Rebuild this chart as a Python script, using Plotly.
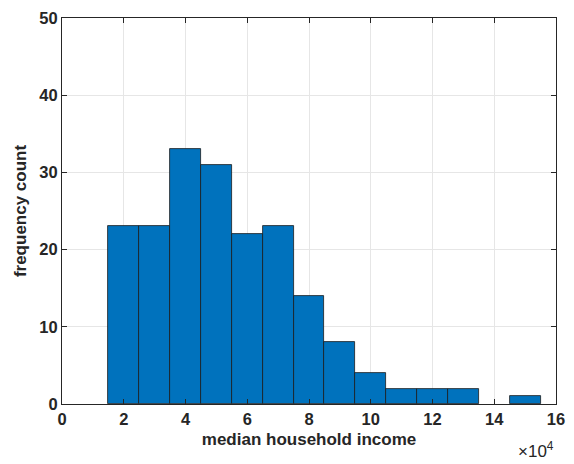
import plotly.graph_objects as go

bin_edges_left = [15000, 25000, 35000, 45000, 55000, 65000, 75000, 85000, 95000,
                  105000, 115000, 125000, 135000, 145000]
counts = [23, 23, 33, 31, 22, 23, 14, 8, 4, 2, 2, 2, 0, 1]
bin_width = 10000
x_tick_vals = [0, 20000, 40000, 60000, 80000, 100000, 120000, 140000, 160000]
x_tick_text = ["0", "2", "4", "6", "8", "10", "12", "14", "16"]
y_tick_vals = [0, 10, 20, 30, 40, 50]

centers = [e + bin_width / 2 for e in bin_edges_left]
plot_counts = [c if c > 0 else None for c in counts]

font_family = "Liberation Sans, Arial, Helvetica, sans-serif"
axis_color = "#262626"

fig = go.Figure(go.Bar(
    x=centers, y=plot_counts, width=[bin_width] * len(counts),
    marker=dict(color="#0072BD", line=dict(color="#1a1a1a", width=0.8)),
))

fig.update_layout(
    width=566, height=456,
    margin=dict(l=54, r=18, t=10, b=60),
    plot_bgcolor="white", paper_bgcolor="white",
    showlegend=False,
    bargap=0,
    font=dict(family=font_family, color=axis_color, size=16),
)
fig.update_xaxes(
    range=[0, 160000], tickvals=x_tick_vals, ticktext=x_tick_text,
    showline=True, linecolor=axis_color, linewidth=1, mirror="ticks",
    ticks="inside", ticklen=5, tickcolor=axis_color,
    showgrid=True, gridcolor="#e6e6e6", zeroline=False, automargin=False,
    tickfont=dict(size=16.5, family=font_family, color=axis_color, weight="bold"),
    title=dict(text="<b>median household income</b>", font=dict(size=17, family=font_family, color=axis_color), standoff=6),
)
fig.update_yaxes(
    range=[0, 50], tickvals=y_tick_vals,
    showline=True, linecolor=axis_color, linewidth=1, mirror="ticks",
    ticks="inside", ticklen=5, tickcolor=axis_color,
    showgrid=True, gridcolor="#e6e6e6", zeroline=False, automargin=False,
    tickfont=dict(size=16.5, family=font_family, color=axis_color, weight="bold"),
    title=dict(text="<b>frequency count</b>", font=dict(size=17, family=font_family, color=axis_color), standoff=8),
)
fig.add_annotation(
    xref="paper", yref="paper", x=1.0, y=-0.085, xanchor="right", yanchor="top",
    text="×10<sup>4</sup>", showarrow=False,
    font=dict(size=17, family=font_family, color=axis_color),
)

fig.write_html("out.html")
